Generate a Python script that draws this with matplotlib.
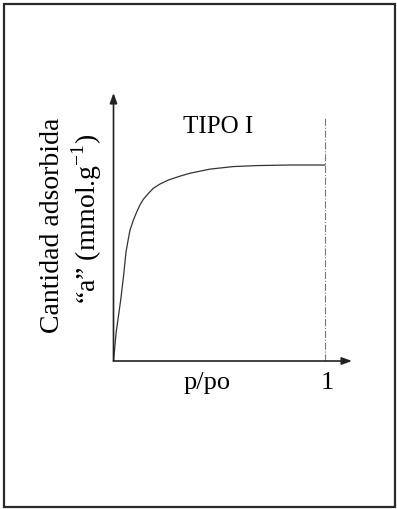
import matplotlib.pyplot as plt
from matplotlib.patches import Rectangle

plt.rcParams["font.family"] = ["Liberation Serif", "DejaVu Serif"]
plt.rcParams["mathtext.fontset"] = "custom"
plt.rcParams["mathtext.rm"] = "Liberation Serif"

# Type I isotherm (relative pressure vs adsorbed amount, plateau = 1)
p_rel = [0.0, 0.002, 0.012, 0.023, 0.034, 0.047, 0.059, 0.071, 0.078, 0.094,
         0.110, 0.125, 0.141, 0.165, 0.188, 0.220, 0.259, 0.314, 0.362, 0.456,
         0.567, 0.677, 0.835, 1.0]
adsorbed = [0.0, 0.022, 0.141, 0.226, 0.311, 0.429, 0.556, 0.628, 0.668, 0.719,
            0.761, 0.796, 0.825, 0.855, 0.881, 0.903, 0.923, 0.943, 0.958, 0.979,
            0.992, 0.997, 1.0, 1.0]
saturation = 1.0
title = "TIPO I"
xlabel = "p/po"
ylabel_lines = ["Cantidad adsorbida", "\u201ca\u201d (mmol.g$^{\\mathregular{-1}}$)"]

W, H = 397, 509
fig = plt.figure(figsize=(W / 100, H / 100), dpi=100)

# outer frame
fig.patches.append(Rectangle((4 / W, 2 / H), 391 / W, 503 / H, transform=fig.transFigure,
                             fill=False, lw=1.6, ec="#2a2a2a"))

x0, x1 = 113.5, 352
y0, y1 = 361, 93
ax = fig.add_axes([x0 / W, 1 - y0 / H, (x1 - x0) / W, (y0 - y1) / H])
xmax = (x1 - x0) / 211.5
ymax = (y0 - y1) / 196
ax.set_xlim(0, xmax)
ax.set_ylim(0, ymax)
ax.axis("off")

arrow = dict(arrowstyle="-|>,head_length=0.6,head_width=0.22", color="#222222", lw=1.2,
             shrinkA=0, shrinkB=0)
ax.annotate("", xy=(xmax, 0), xytext=(0, 0), arrowprops=arrow)
ax.annotate("", xy=(0, ymax), xytext=(0, 0), arrowprops=arrow)

ax.plot(p_rel, adsorbed, color="#333333", lw=0.9, clip_on=False, solid_joinstyle="round")
ax.plot([saturation, saturation], [0, 1.24], color="#777777", lw=0.8, ls="-.")

ax.text(0.494, 1.194, title, ha="center", va="center", fontsize=18)
ax.text(0.442, -0.112, xlabel, ha="center", va="center", fontsize=19)
ax.text(saturation + 0.01, -0.112, "1", ha="center", va="center", fontsize=19)

fig.text(53 / W, 1 - 225 / H, ylabel_lines[0], rotation=90, ha="center", va="center", fontsize=20)
fig.text(87 / W, 1 - 219 / H, ylabel_lines[1], rotation=90, ha="center", va="center", fontsize=20)

fig.savefig("out.png", dpi=100)
